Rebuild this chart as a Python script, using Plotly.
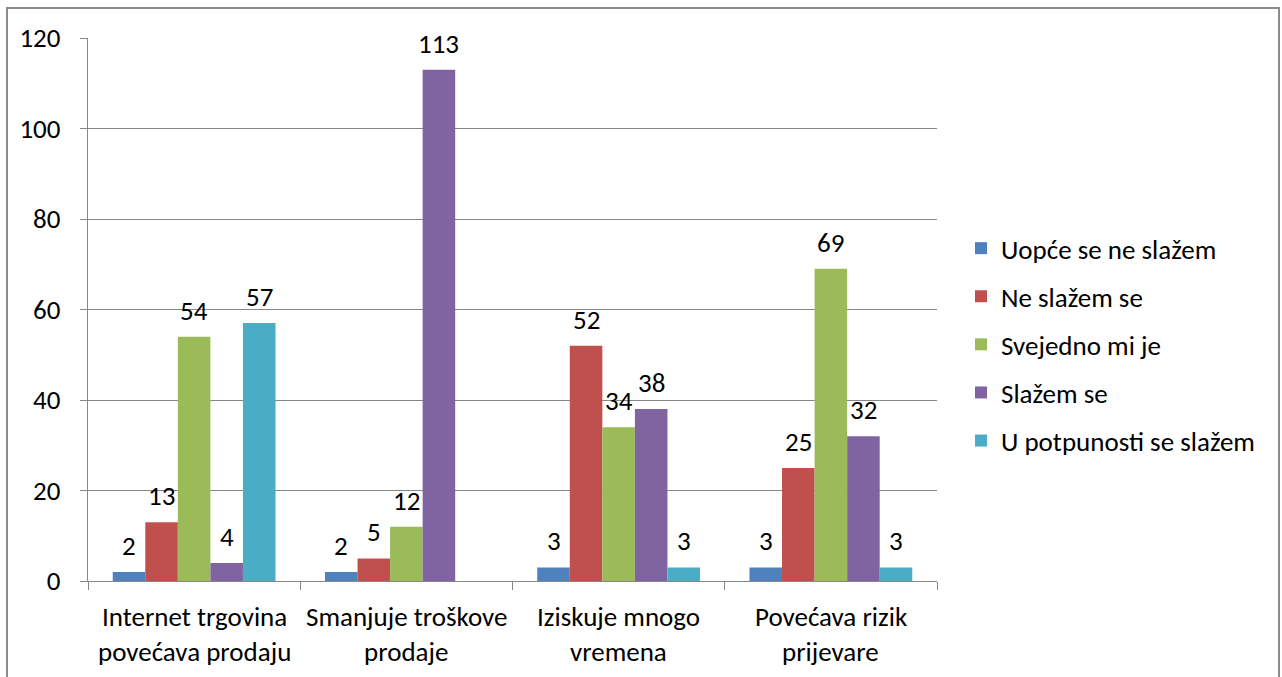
import plotly.graph_objects as go

categories = ["Internet trgovina\npovećava prodaju", "Smanjuje troškove\nprodaje",
              "Iziskuje mnogo\nvremena", "Povećava rizik\nprijevare"]
series_names = ["Uopće se ne slažem", "Ne slažem se", "Svejedno mi je", "Slažem se",
                "U potpunosti se slažem"]
uopce = [2, 2, 3, 3]
ne_slazem = [13, 5, 52, 25]
svejedno = [54, 12, 34, 69]
slazem = [4, 113, 38, 32]
potpuno = [57, None, 3, 3]
colors = ["#4F81BD", "#C0504D", "#9BBB59", "#8064A2", "#4BACC6"]

all_values = [uopce, ne_slazem, svejedno, slazem, potpuno]

FONT = "Carlito, Calibri, Lato, sans-serif"
FS = 27
W, H = 1282, 677
L, R, T, B = 88, 937, 38, 581
BARGAP = 0.233
pw, ph = R - L, B - T
cat_px = pw / len(categories)
bar_px = cat_px * (1 - BARGAP) / len(series_names)

fig = go.Figure()
for name, vals, col in zip(series_names, all_values, colors):
    fig.add_trace(go.Bar(
        x=categories, y=vals, name=name, marker=dict(color=col, line=dict(width=0)),
        legendgroup=name,
    ))

annotations = []
# value labels above bars
for i, vals in enumerate(all_values):
    for cat, v in zip(categories, vals):
        if v is None:
            continue
        annotations.append(dict(
            x=cat, y=v, xref="x", yref="y", text=str(v), showarrow=False,
            xanchor="center", yanchor="middle", yshift=26.5,
            xshift=(i - (len(series_names) - 1) / 2) * bar_px,
            font=dict(family=FONT, size=FS, color="#000000"),
        ))
# category labels (two lines each)
line_y = [(B - 616.5) / ph, (B - 651.5) / ph]
for cat in categories:
    for ln, yy in zip(cat.split("\n"), line_y):
        annotations.append(dict(
            x=cat, y=yy, xref="x", yref="paper", text=ln, showarrow=False,
            xanchor="center", yanchor="middle",
            font=dict(family=FONT, size=FS, color="#000000"),
        ))

fig.update_layout(
    width=W, height=H,
    margin=dict(l=L, r=W - R, t=T, b=H - B, autoexpand=False),
    paper_bgcolor="white", plot_bgcolor="white",
    barmode="group", bargap=BARGAP, bargroupgap=0,
    font=dict(family=FONT, size=FS, color="#000000"),
    showlegend=True,
    legend=dict(x=(961 - L) / pw, y=(B - 344.6) / ph, xanchor="left", yanchor="middle",
                font=dict(family=FONT, size=FS), tracegroupgap=10, traceorder="grouped",
                itemwidth=30, bgcolor="rgba(0,0,0,0)"),
    annotations=annotations,
)
fig.update_xaxes(
    type="category", showline=True, linecolor="#878787", linewidth=1.3,
    ticks="outside", tickson="boundaries", ticklen=8, tickcolor="#878787",
    showticklabels=False, showgrid=False,
)
fig.update_yaxes(
    range=[0, 120], dtick=20, showline=True, linecolor="#878787", linewidth=1.3,
    ticks="outside", ticklen=7, tickcolor="#878787", showgrid=True,
    gridcolor="#878787", gridwidth=1.3, tickfont=dict(family=FONT, size=FS),
    ticklabelstandoff=14, zeroline=False,
)

# outer chart border
fig.add_shape(type="rect", xref="paper", yref="paper",
              x0=(7 - L) / pw, x1=(1279 - L) / pw,
              y0=(B - 690) / ph, y1=(B - 8) / ph,
              line=dict(color="#8C8C8C", width=2), fillcolor="rgba(0,0,0,0)", layer="below")

fig.write_html("out.html", config={"displayModeBar": False},
               post_script="document.body.style.margin='0px';")
